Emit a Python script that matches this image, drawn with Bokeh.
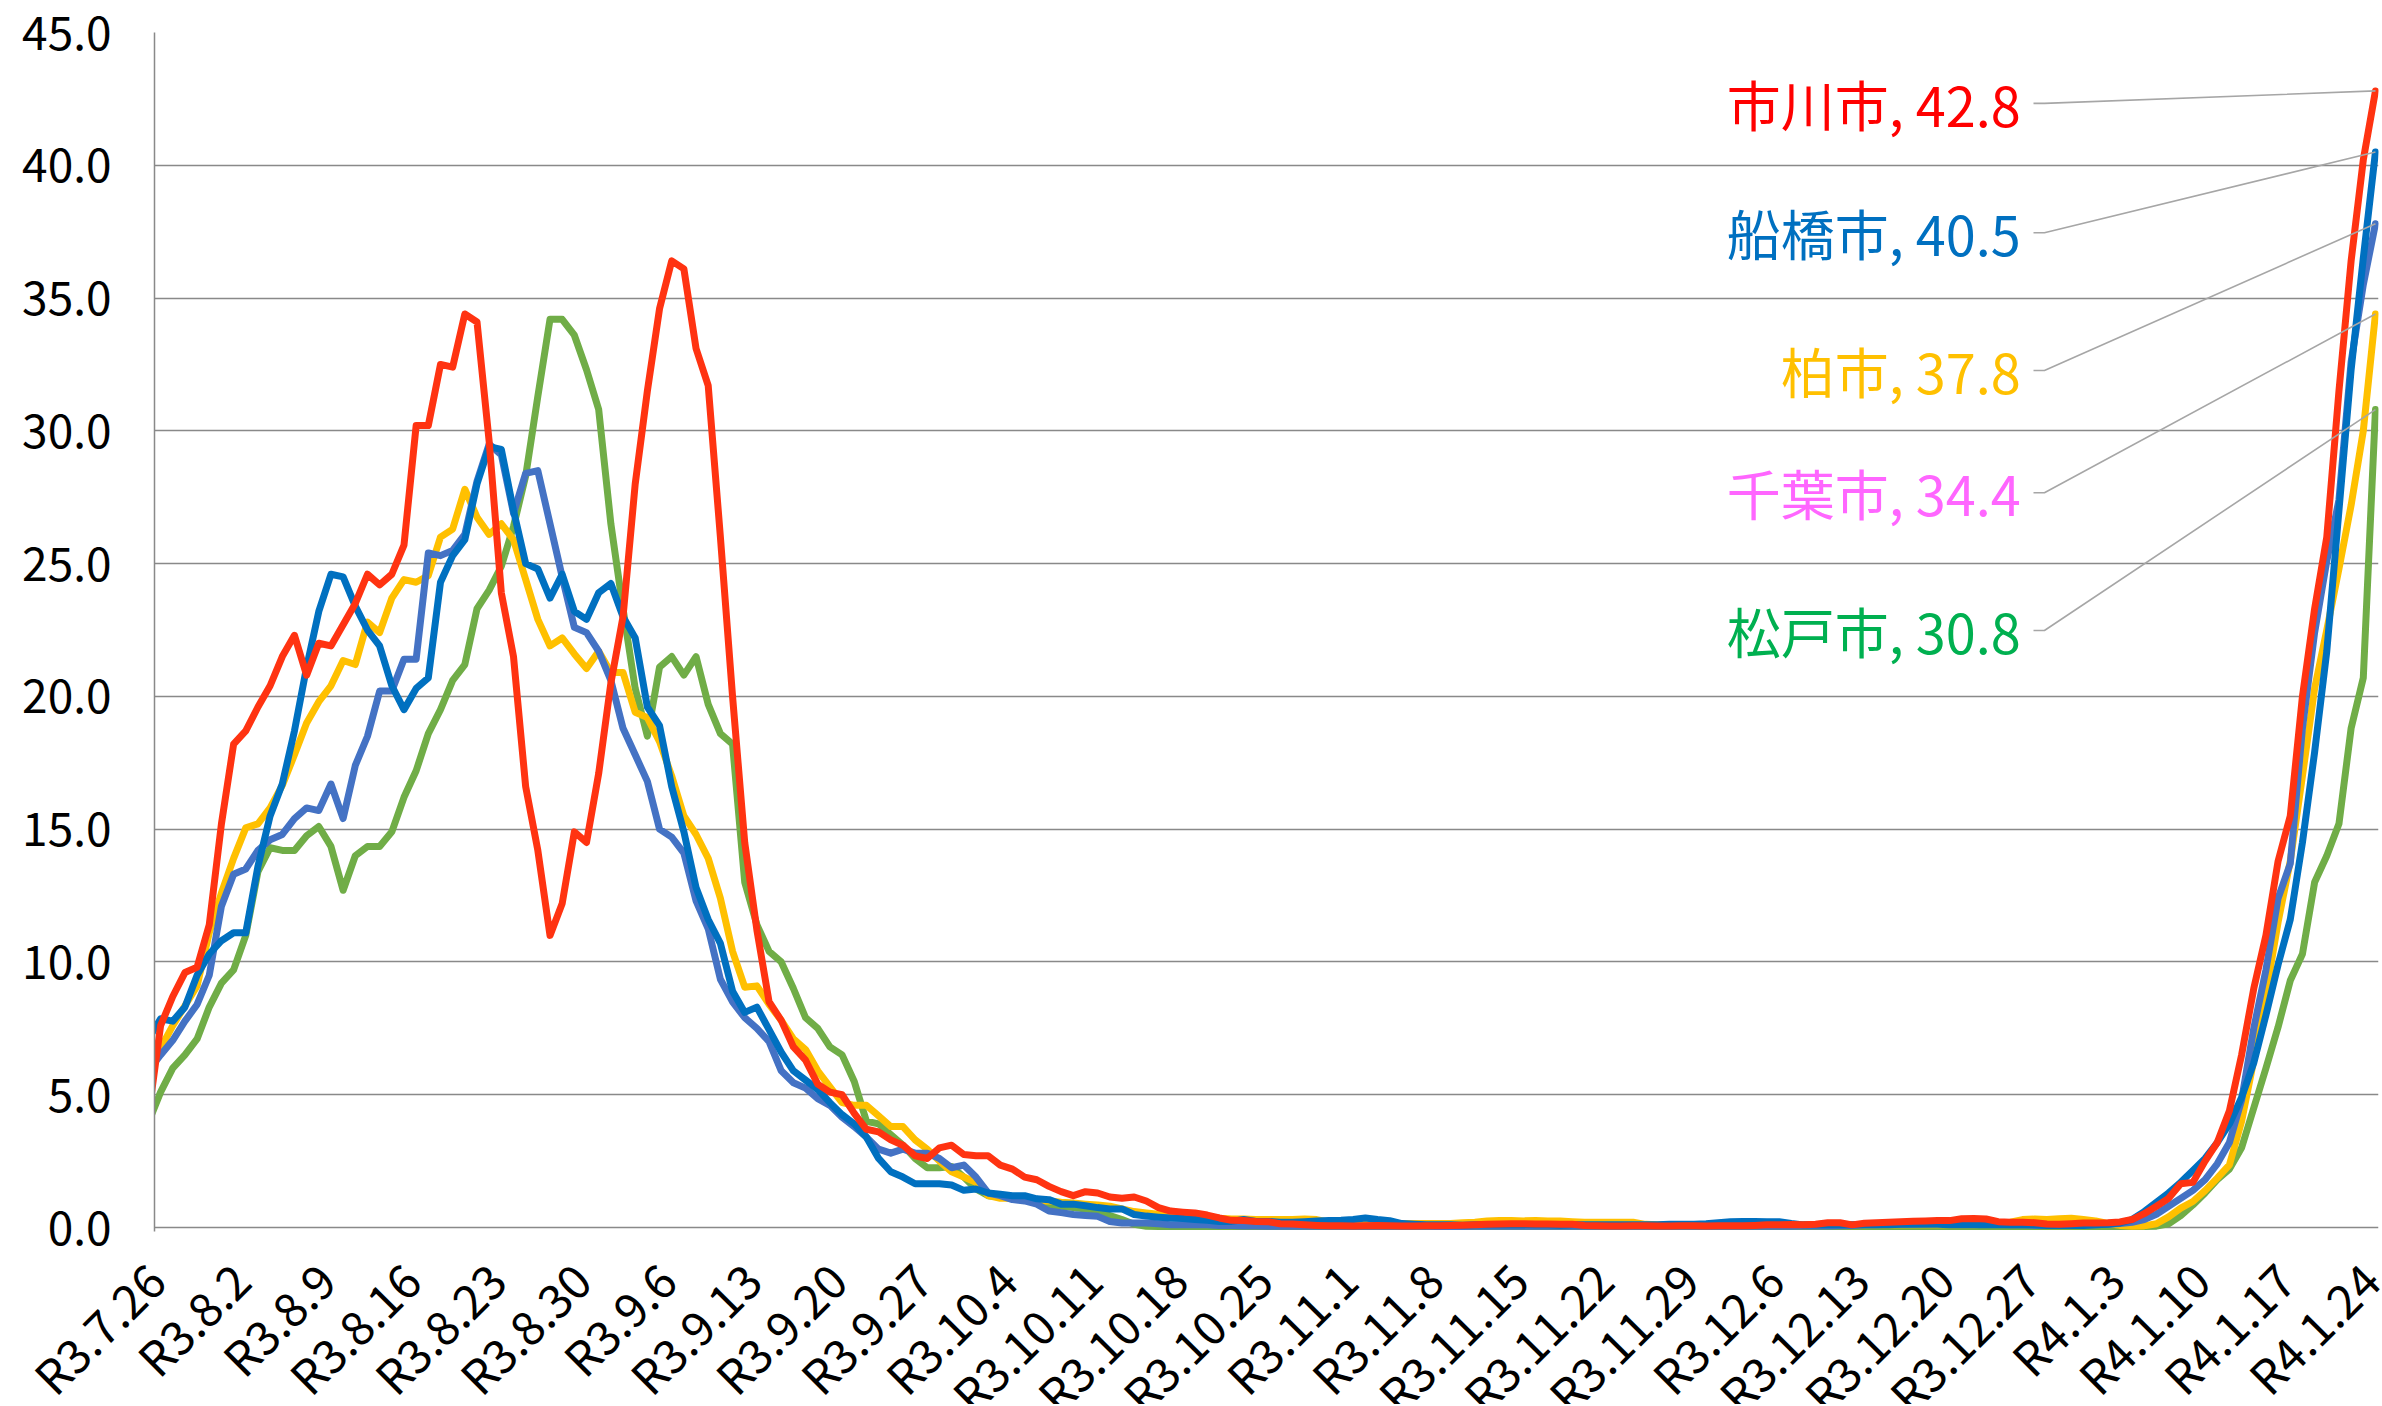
from bokeh.plotting import figure
from bokeh.layouts import column
from bokeh.models import Range1d, FixedTicker, ColumnDataSource
from bokeh.core.properties import value
from bokeh.embed import file_html
from bokeh.resources import INLINE
import math

# ---------------- data ----------------
# day index: -1 = R3.7.25 (clipped at the axis), 0 = R3.7.26 ... 182 = R4.1.24
days = list(range(-1, 183))

tick_pos = [0, 7, 14, 21, 28, 35, 42, 49, 56, 63, 70, 77, 84, 91, 98, 105, 112,
            119, 126, 133, 140, 147, 154, 161, 168, 175, 182]
tick_labels = ["R3.7.26", "R3.8.2", "R3.8.9", "R3.8.16", "R3.8.23", "R3.8.30",
               "R3.9.6", "R3.9.13", "R3.9.20", "R3.9.27", "R3.10.4", "R3.10.11",
               "R3.10.18", "R3.10.25", "R3.11.1", "R3.11.8", "R3.11.15",
               "R3.11.22", "R3.11.29", "R3.12.6", "R3.12.13", "R3.12.20",
               "R3.12.27", "R4.1.3", "R4.1.10", "R4.1.17", "R4.1.24"]

ichikawa = [4.2, 7.6, 8.7, 9.6, 9.8, 11.4, 15.2, 18.2, 18.7, 19.6, 20.4,
            21.5, 22.3, 20.8, 22.0, 21.9, 22.7, 23.5, 24.6, 24.2, 24.6,
            25.7, 30.2, 30.2, 32.5, 32.4, 34.4, 34.1, 29.6, 23.9, 21.5,
            16.6, 14.2, 11.0, 12.2, 14.9, 14.5, 17.1, 20.5, 23.0, 28.0,
            31.5, 34.6, 36.4, 36.1, 33.1, 31.7, 26.0, 20.0, 14.5, 11.2,
            8.5, 7.8, 6.8, 6.3, 5.4, 5.1, 5.0, 4.3, 3.7, 3.6,
            3.3, 3.1, 2.7, 2.6, 3.0, 3.1, 2.75, 2.7, 2.7, 2.35,
            2.2, 1.9, 1.8, 1.55, 1.35, 1.2, 1.35, 1.3, 1.15, 1.1,
            1.15, 1.0, 0.75, 0.62, 0.58, 0.55, 0.47, 0.36, 0.27, 0.26,
            0.23, 0.22, 0.14, 0.13, 0.1, 0.08, 0.07, 0.07, 0.06, 0.07,
            0.08, 0.07, 0.06, 0.06, 0.07, 0.07, 0.08, 0.09, 0.1, 0.12,
            0.13, 0.14, 0.14, 0.13, 0.13, 0.12, 0.12, 0.08, 0.07, 0.06,
            0.06, 0.07, 0.07, 0.06, 0.06, 0.07, 0.07, 0.06, 0.07, 0.07,
            0.07, 0.08, 0.1, 0.1, 0.11, 0.1, 0.12, 0.18, 0.18, 0.1,
            0.16, 0.18, 0.2, 0.22, 0.24, 0.25, 0.26, 0.26, 0.33, 0.34,
            0.32, 0.22, 0.2, 0.2, 0.18, 0.13, 0.12, 0.14, 0.17, 0.17,
            0.18, 0.21, 0.3, 0.52, 0.8, 1.1, 1.65, 1.7, 2.5, 3.2,
            4.4, 6.5, 9.0, 11.0, 13.8, 15.5, 20.0, 23.3, 26.0, 31.5,
            36.4, 40.2, 42.8]

funabashi = [7.1, 7.86, 7.77, 8.3, 9.5, 10.3, 10.8, 11.1, 11.1, 13.6, 15.5,
             16.7, 18.7, 21.1, 23.2, 24.6, 24.5, 23.4, 22.5, 21.9, 20.4,
             19.5, 20.3, 20.7, 24.3, 25.3, 25.9, 28.0, 29.4, 29.3, 27.0,
             25.0, 24.8, 23.7, 24.6, 23.2, 22.9, 23.9, 24.25, 23.0, 22.2,
             19.6, 18.9, 16.6, 14.9, 12.8, 11.6, 10.7, 8.9, 8.1, 8.3,
             7.45, 6.6, 5.9, 5.55, 5.2, 4.7, 4.25, 3.9, 3.4, 2.6,
             2.1, 1.9, 1.65, 1.65, 1.65, 1.6, 1.4, 1.45, 1.3, 1.25,
             1.2, 1.2, 1.08, 1.05, 0.88, 0.88, 0.82, 0.75, 0.7, 0.7,
             0.49, 0.43, 0.39, 0.36, 0.34, 0.3, 0.27, 0.23, 0.23, 0.3,
             0.23, 0.23, 0.2, 0.2, 0.22, 0.25, 0.26, 0.27, 0.3, 0.36,
             0.3, 0.26, 0.15, 0.12, 0.1, 0.1, 0.1, 0.09, 0.1, 0.1,
             0.1, 0.1, 0.11, 0.1, 0.1, 0.09, 0.1, 0.1, 0.1, 0.1,
             0.1, 0.1, 0.1, 0.1, 0.12, 0.12, 0.12, 0.14, 0.18, 0.22,
             0.23, 0.23, 0.22, 0.22, 0.15, 0.1, 0.1, 0.1, 0.1, 0.1,
             0.1, 0.1, 0.1, 0.12, 0.12, 0.12, 0.12, 0.1, 0.1, 0.1,
             0.1, 0.1, 0.1, 0.1, 0.1, 0.08, 0.08, 0.08, 0.08, 0.1,
             0.12, 0.17, 0.3, 0.6, 0.95, 1.3, 1.7, 2.15, 2.6, 3.2,
             3.9, 4.9, 6.2, 8.0, 9.9, 11.6, 14.5, 17.9, 21.7, 27.0,
             32.3, 36.5, 40.5]

kashiwa = [5.9, 6.5, 7.05, 7.77, 8.4, 9.5, 12.1, 13.3, 13.5, 14.2, 14.6,
           14.8, 15.4, 15.8, 15.7, 16.7, 15.4, 17.4, 18.5, 20.2, 20.2,
           21.4, 21.4, 25.4, 25.3, 25.5, 26.1, 28.1, 29.5, 29.1, 26.9,
           28.4, 28.5, 26.5, 24.5, 22.6, 22.4, 21.7, 20.6, 18.8, 17.8,
           16.8, 15.0, 14.7, 14.1, 12.3, 11.25, 9.35, 8.5, 7.9, 7.5,
           7.0, 5.9, 5.45, 5.25, 4.85, 4.6, 4.15, 3.8, 3.4, 2.95,
           2.8, 2.95, 2.8, 2.8, 2.6, 2.25, 2.35, 1.9, 1.3, 1.2,
           1.05, 1.0, 0.88, 0.62, 0.56, 0.49, 0.45, 0.42, 0.23, 0.17,
           0.17, 0.17, 0.14, 0.1, 0.1, 0.1, 0.1, 0.08, 0.08, 0.06,
           0.06, 0.05, 0.05, 0.05, 0.05, 0.05, 0.05, 0.05, 0.05, 0.05,
           0.05, 0.05, 0.05, 0.05, 0.05, 0.04, 0.04, 0.04, 0.05, 0.05,
           0.05, 0.05, 0.05, 0.05, 0.05, 0.05, 0.05, 0.05, 0.05, 0.05,
           0.05, 0.05, 0.05, 0.05, 0.05, 0.05, 0.05, 0.05, 0.05, 0.05,
           0.05, 0.05, 0.05, 0.05, 0.05, 0.06, 0.06, 0.06, 0.07, 0.08,
           0.1, 0.1, 0.12, 0.12, 0.13, 0.14, 0.15, 0.15, 0.15, 0.15,
           0.15, 0.12, 0.1, 0.1, 0.08, 0.08, 0.08, 0.1, 0.1, 0.1,
           0.12, 0.15, 0.2, 0.3, 0.5, 0.8, 1.1, 1.4, 1.8, 2.4,
           3.2, 4.8, 7.5, 9.7, 12.4, 13.7, 18.8, 22.4, 25.1, 27.4,
           32.6, 35.5, 37.8]

chiba = [6.05, 6.75, 7.6, 8.35, 9.1, 11.1, 12.6, 13.9, 15.05, 15.2, 15.8,
         16.65, 17.8, 19.0, 19.8, 20.4, 21.35, 21.2, 22.8, 22.4, 23.7,
         24.4, 24.3, 24.55, 26.0, 26.3, 27.8, 26.75, 26.1, 26.5, 25.9,
         24.4, 22.9, 21.9, 22.2, 21.6, 21.05, 21.7, 20.9, 20.9, 19.4,
         19.2, 18.3, 17.0, 15.5, 14.8, 13.9, 12.4, 10.4, 9.05, 9.1,
         8.4, 7.8, 7.1, 6.7, 5.9, 5.3, 4.7, 4.6, 4.6, 4.2,
         3.8, 3.8, 3.3, 2.95, 2.5, 2.1, 1.9, 1.7, 1.2, 1.1,
         1.1, 1.1, 1.0, 1.0, 0.95, 0.92, 0.88, 0.85, 0.8, 0.7,
         0.6, 0.55, 0.5, 0.45, 0.43, 0.42, 0.4, 0.35, 0.32, 0.32,
         0.3, 0.3, 0.3, 0.3, 0.32, 0.3, 0.2, 0.15, 0.15, 0.15,
         0.15, 0.15, 0.15, 0.15, 0.15, 0.15, 0.15, 0.18, 0.2, 0.25,
         0.26, 0.26, 0.25, 0.26, 0.25, 0.25, 0.22, 0.2, 0.2, 0.2,
         0.2, 0.2, 0.12, 0.1, 0.1, 0.1, 0.1, 0.1, 0.1, 0.1,
         0.1, 0.1, 0.1, 0.1, 0.1, 0.1, 0.1, 0.1, 0.1, 0.1,
         0.1, 0.1, 0.1, 0.1, 0.1, 0.1, 0.1, 0.1, 0.1, 0.1,
         0.12, 0.15, 0.2, 0.3, 0.32, 0.3, 0.33, 0.35, 0.3, 0.25,
         0.15, 0.08, 0.05, 0.06, 0.14, 0.4, 0.73, 0.98, 1.39, 1.86,
         2.36, 4.0, 6.3, 8.8, 11.5, 13.8, 17.0, 20.3, 22.5, 24.8,
         27.2, 30.0, 34.4]

matsudo = [3.95, 5.1, 6.0, 6.5, 7.1, 8.3, 9.2, 9.7, 11.0, 13.4, 14.3,
           14.2, 14.2, 14.75, 15.1, 14.35, 12.7, 14.0, 14.35, 14.35, 14.9,
           16.2, 17.2, 18.6, 19.5, 20.6, 21.2, 23.3, 24.0, 24.9, 26.4,
           28.3, 31.3, 34.2, 34.2, 33.6, 32.3, 30.8, 26.5, 23.3, 20.3,
           18.5, 21.1, 21.5, 20.8, 21.5, 19.7, 18.6, 18.2, 13.0, 11.4,
           10.4, 10.0, 9.0, 7.9, 7.5, 6.8, 6.5, 5.5, 4.0, 3.9,
           3.5, 3.1, 2.6, 2.25, 2.25, 2.3, 1.9, 1.45, 1.2, 1.15,
           1.1, 1.1, 1.0, 0.85, 0.8, 0.75, 0.7, 0.6, 0.45, 0.3,
           0.12, 0.05, 0.04, 0.04, 0.04, 0.04, 0.04, 0.04, 0.04, 0.04,
           0.04, 0.04, 0.04, 0.04, 0.04, 0.04, 0.04, 0.04, 0.04, 0.04,
           0.04, 0.04, 0.04, 0.04, 0.04, 0.04, 0.04, 0.04, 0.04, 0.04,
           0.04, 0.04, 0.04, 0.04, 0.04, 0.04, 0.04, 0.04, 0.04, 0.04,
           0.04, 0.04, 0.04, 0.04, 0.04, 0.04, 0.04, 0.04, 0.04, 0.04,
           0.04, 0.04, 0.04, 0.04, 0.04, 0.04, 0.04, 0.04, 0.04, 0.04,
           0.04, 0.04, 0.04, 0.04, 0.04, 0.04, 0.04, 0.04, 0.04, 0.04,
           0.04, 0.04, 0.04, 0.04, 0.04, 0.04, 0.04, 0.04, 0.04, 0.04,
           0.04, 0.04, 0.04, 0.04, 0.05, 0.14, 0.45, 0.85, 1.3, 1.8,
           2.2, 3.0, 4.5, 6.0, 7.55, 9.3, 10.3, 13.0, 14.0, 15.2,
           18.8, 20.7, 30.8]

cities = ["市川市", "船橋市", "柏市", "千葉市", "松戸市"]
series = [ichikawa, funabashi, kashiwa, chiba, matsudo]
line_colors = ["#FF3311", "#0070C0", "#4472C4", "#FFC000", "#70AD47"]
label_colors = ["#FF0000", "#0070C0", "#FFC000", "#FF66FF", "#00B050"]
y_ticks = [0, 5, 10, 15, 20, 25, 30, 35, 40, 45]

# ---------------- layout constants ----------------
FONT = "Noto Sans CJK JP"
W = 2382
FRAME_L = 154          # px, left edge of plot area
FRAME_R = 2378         # px, right edge of plot area
X0, X1 = -0.5, 182.25  # data range across the plot area
PX_PER_DAY = (FRAME_R - FRAME_L) / (X1 - X0)
TOP_H = 1262           # height of the chart figure
OVERLAP = 24           # the label strip overlaps the chart's bottom margin
BOT_H = 1404 - TOP_H + OVERLAP
FRAME_TOP = 32
FRAME_BOTTOM = 1231    # px (value 0 sits at ~1227)

# label placement (data coordinates)
label_x = 152.85
label_y = [42.33, 37.46, 32.27, 27.67, 22.48]
leader_x0 = 153.9
leader_x1 = 154.8

# ---------------- chart ----------------
p = figure(width=W, height=TOP_H, output_backend="svg", toolbar_location=None,
           x_range=Range1d(X0, X1), y_range=Range1d(-0.15, 45),
           min_border_left=FRAME_L, min_border_right=W - FRAME_R,
           min_border_top=FRAME_TOP, min_border_bottom=TOP_H - FRAME_BOTTOM)
p.frame_align = False
p.outline_line_color = None
p.background_fill_color = "white"
p.border_fill_color = "white"

p.xgrid.visible = False
p.ygrid.ticker = FixedTicker(ticks=y_ticks)
p.ygrid.grid_line_color = "#898989"
p.ygrid.grid_line_width = 1.5

ya = p.yaxis[0]
ya.ticker = FixedTicker(ticks=y_ticks)
ya.major_label_overrides = {t: f"{t:.1f}" for t in y_ticks}
ya.axis_line_color = "#898989"
ya.axis_line_width = 1.5
ya.major_tick_line_color = None
ya.minor_tick_line_color = None
ya.major_tick_out = 0
ya.major_tick_in = 0
ya.major_label_standoff = 43
ya.major_label_text_font = FONT
ya.major_label_text_font_size = "46px"
ya.major_label_text_color = "#000000"

p.xaxis.visible = False

order = [4, 3, 2, 1, 0]
for i in order:
    p.line(days, series[i], line_color=line_colors[i], line_width=7,
           line_join="round", line_cap="round")

for i in range(5):
    end_val = series[i][-1]
    p.line([leader_x0, leader_x1, days[-1]], [label_y[i], label_y[i], end_val],
           line_color="#A6A6A6", line_width=1.6)

lab_src = ColumnDataSource(dict(
    x=[label_x] * 5,
    y=label_y,
    text=[f"{c}, {s[-1]:.1f}" for c, s in zip(cities, series)],
    color=label_colors,
))
p.text(x="x", y="y", text="text", text_color="color", source=lab_src,
       text_align="right", text_baseline="middle",
       text_font=value(FONT), text_font_size="54px")

# ---------------- category label strip ----------------
# same day->pixel mapping as the chart, but its frame spans the full width;
# transparent, pulled up over the chart's bottom margin
sx0 = X0 - FRAME_L / PX_PER_DAY
sx1 = sx0 + W / PX_PER_DAY
q = figure(width=W, height=BOT_H, output_backend="svg", toolbar_location=None,
           x_range=Range1d(sx0, sx1), y_range=Range1d(0, BOT_H),
           x_axis_type=None, y_axis_type=None,
           min_border_left=0, min_border_right=0, min_border_top=0,
           min_border_bottom=0)
q.frame_align = False
q.margin = (-OVERLAP, 0, 0, 0)
q.outline_line_color = None
q.background_fill_color = None
q.border_fill_color = None
q.grid.visible = False

ANCHOR_Y = 1270        # screen px of the label anchors
strip_top = TOP_H - OVERLAP
xlab_src = ColumnDataSource(dict(x=tick_pos, text=tick_labels))
q.text(x="x", y=BOT_H - (ANCHOR_Y - strip_top), text="text", source=xlab_src,
       angle=math.pi / 4, text_align="right", text_baseline="middle",
       x_offset=-6, text_font=value(FONT), text_font_size="47px",
       text_color="#000000")

layout = column(p, q, spacing=0)
open("out.html", "w").write(file_html(layout, INLINE))
